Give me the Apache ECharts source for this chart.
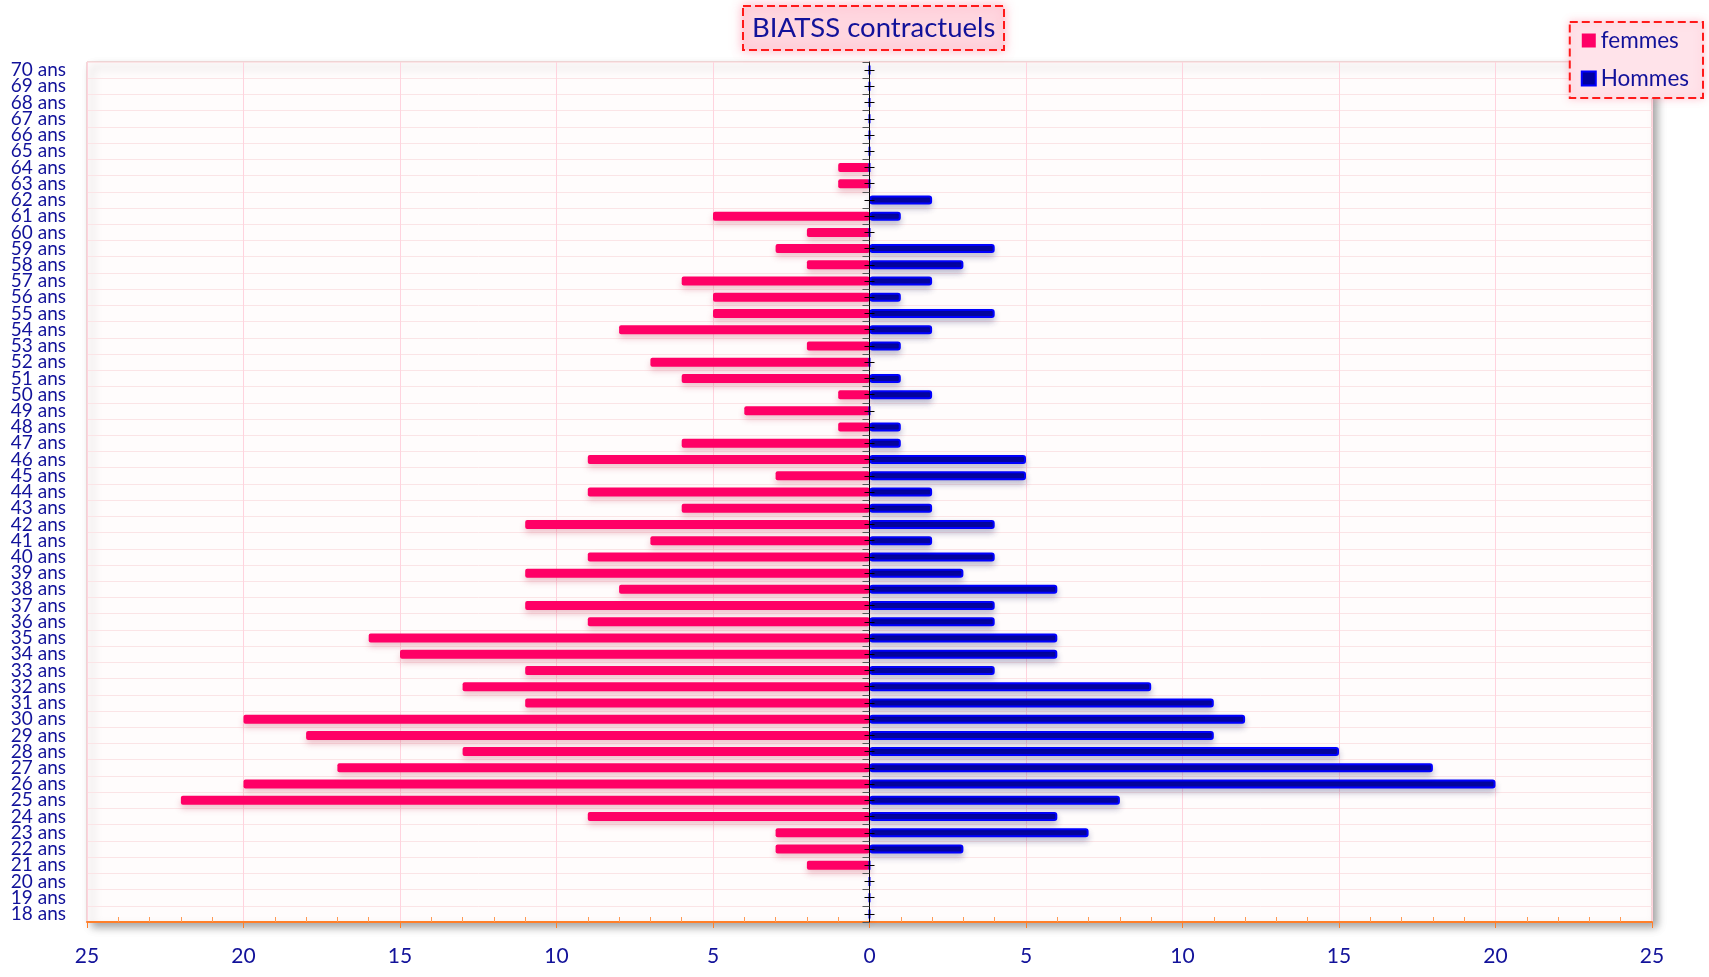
<!DOCTYPE html>
<html>
<head>
<meta charset="utf-8">
<script src="https://cdn.jsdelivr.net/npm/echarts@6/dist/echarts.min.js"></script>
<style>
html,body{margin:0;padding:0;background:#fff;}
#chart{width:1709px;height:977px;}
</style>
</head>
<body>
<div id="chart"></div>
<script>
const ages = [];
for (let a = 18; a <= 70; a++) ages.push(a + ' ans');
// values listed from 18 ans up to 70 ans
const femmes = [0,0,0,2,3,3,9,22,20,17,13,18,20,11,13,11,15,16,9,11,8,11,9,7,11,6,9,3,9,6,1,4,1,6,7,2,8,5,5,6,2,3,2,5,0,1,1,0,0,0,0,0,0];
const hommes = [0,0,0,0,3,7,6,8,20,18,15,11,12,11,9,4,6,6,4,4,6,3,4,2,4,2,2,5,5,1,1,0,2,1,0,1,2,4,1,2,3,4,0,1,2,0,0,0,0,0,0,0,0];
const xTicks = { min: -25, max: 25, interval: 5 };

const W = 1709, GL = 87, GR = 57;
const zeroOffset = -((W - GL - GR) / 2); // shift extra axes to the centre line

const navy = '#12129a';
const chart = echarts.init(document.getElementById('chart'));
const hiddenCat = (extra) => Object.assign({
  type: 'category', data: ages, gridIndex: 0, z: 6,
  axisLabel: { show: false }, splitLine: { show: false }
}, extra);

chart.setOption({
  animation: false,
  backgroundColor: '#ffffff',
  title: {
    text: 'BIATSS contractuels',
    left: 743, top: 6,
    padding: [8, 9, 8, 9],
    backgroundColor: '#ffd6df',
    borderColor: '#ff1a1a', borderWidth: 2, borderType: 'dashed',
    shadowBlur: 10, shadowColor: 'rgba(255,120,150,0.5)',
    textStyle: { color: navy, fontFamily: 'Lato', fontSize: 27.5, fontWeight: 'normal' }
  },
  legend: {
    orient: 'vertical', right: 6, top: 22,
    padding: [7, 14, 8, 11],
    itemGap: 15, itemWidth: 14, itemHeight: 14,
    icon: 'rect',
    backgroundColor: '#ffe3ea',
    borderColor: '#ff1a1a', borderWidth: 2, borderType: 'dashed',
    shadowBlur: 8, shadowColor: 'rgba(255,120,150,0.4)',
    textStyle: { color: navy, fontFamily: 'Lato', fontSize: 22.5 },
    data: ['femmes', 'Hommes']
  },
  grid: {
    left: GL, right: GR, top: 62, bottom: 55,
    show: true, backgroundColor: '#fffcfc',
    borderColor: '#e8b4b4', borderWidth: 1,
    shadowBlur: 8, shadowColor: 'rgba(0,0,0,0.35)', shadowOffsetX: 5, shadowOffsetY: 5
  },
  xAxis: [{
    type: 'value', position: 'bottom',
    min: xTicks.min, max: xTicks.max, interval: xTicks.interval,
    axisLine: { show: true, onZero: false, lineStyle: { color: '#ff7f2a', width: 2 } },
    axisTick: { show: true, length: 6, lineStyle: { color: '#ff7f2a' } },
    axisLabel: { color: navy, fontFamily: 'Lato', fontSize: 21, margin: 24,
      formatter: v => String(Math.abs(v)) },
    splitLine: { show: true, lineStyle: { color: '#ffd3de', width: 1 } }
  }, {
    type: 'value', position: 'bottom',
    min: xTicks.min, max: xTicks.max, interval: xTicks.interval,
    axisLine: { show: false, onZero: false },
    axisTick: { show: false, inside: true },
    minorTick: { show: true, splitNumber: 5, length: 5, lineStyle: { color: '#ff9a55' } },
    axisLabel: { show: false },
    splitLine: { show: false }
  }],
  yAxis: [
    {
      type: 'category', data: ages, position: 'left',
      axisLine: { show: false, onZero: false },
      axisTick: { show: false },
      axisLabel: { color: navy, fontFamily: 'Lato', fontSize: 19, interval: 0, margin: 21, lineHeight: 14 },
      splitLine: { show: true, interval: 0, lineStyle: { color: '#fbe4e6', width: 1 } }
    },
    hiddenCat({ position: 'left',
      axisLine: { show: true, onZero: true, lineStyle: { color: '#000', width: 1 } },
      axisTick: { show: true, interval: 0, length: 7, lineStyle: { color: '#555' } } }),
    hiddenCat({ position: 'left', offset: zeroOffset,
      axisLine: { show: false, onZero: false },
      axisTick: { show: true, interval: 0, alignWithLabel: true, length: 5, lineStyle: { color: '#000' } } }),
    hiddenCat({ position: 'right', offset: zeroOffset,
      axisLine: { show: false, onZero: false },
      axisTick: { show: true, interval: 0, alignWithLabel: true, length: 5, lineStyle: { color: '#000' } } })
  ],
  series: [
    {
      name: 'femmes', type: 'bar', xAxisIndex: 0, yAxisIndex: 0,
      data: femmes.map(v => -v),
      barWidth: 9, barGap: '-100%',
      itemStyle: { color: '#ff0066', borderRadius: 2,
        shadowBlur: 6, shadowColor: 'rgba(200,60,90,0.3)', shadowOffsetY: 4 },
      z: 2
    },
    {
      name: 'Hommes', type: 'bar', xAxisIndex: 0, yAxisIndex: 0,
      data: hommes,
      barWidth: 9, barGap: '-100%',
      itemStyle: { color: '#0000a0', borderColor: '#0000ff', borderWidth: 2, borderRadius: 2,
        shadowBlur: 6, shadowColor: 'rgba(60,60,120,0.3)', shadowOffsetY: 4 },
      z: 2
    }
  ]
});
</script>
</body>
</html>
